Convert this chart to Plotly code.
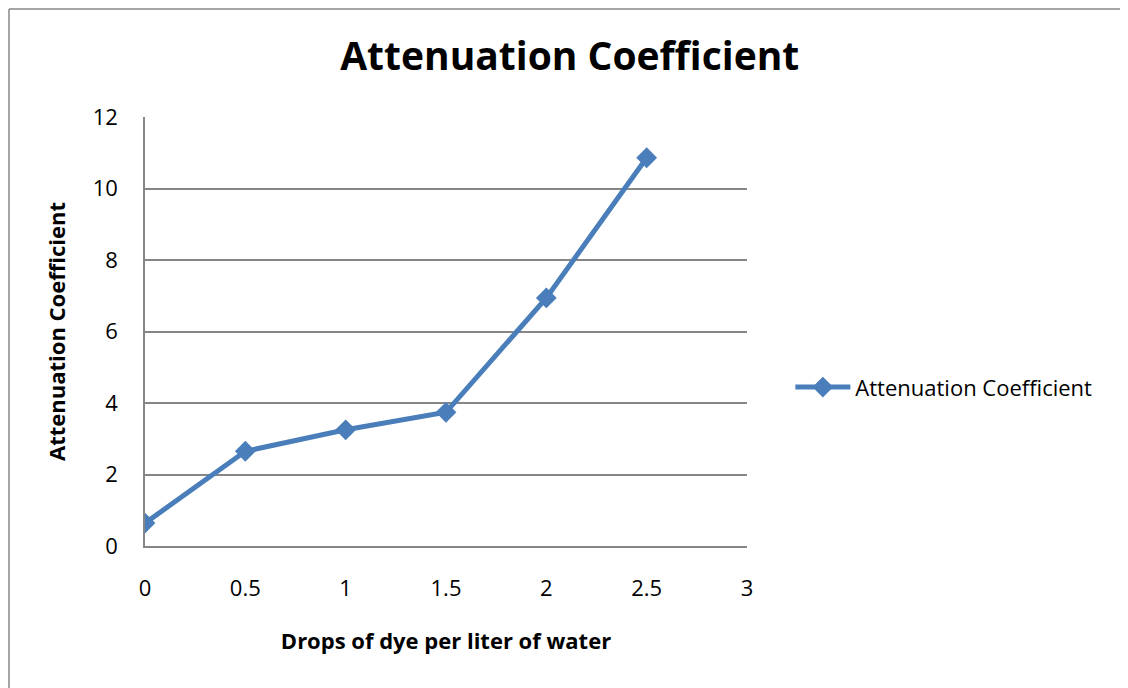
import plotly.graph_objects as go

# data
drops = [0, 0.5, 1, 1.5, 2, 2.5]
attenuation = [0.64, 2.65, 3.25, 3.74, 6.94, 10.86]
series_name = "Attenuation Coefficient"

FONT = "Open Sans, Calibri, Carlito, sans-serif"
BLUE = "#4A7EBB"
GRID = "#868686"

fig = go.Figure()
fig.add_trace(go.Scatter(
    x=drops,
    y=attenuation,
    mode="lines+markers",
    name=series_name,
    line=dict(color=BLUE, width=5),
    marker=dict(symbol="diamond", size=16, color=BLUE),
))

# chart frame (only left/top edges fall inside the picture)
fig.add_shape(type="line", xref="paper", yref="paper",
              x0=-0.2259, x1=-0.2259, y0=1.2517, y1=-0.5,
              line=dict(color="#878787", width=1.5))
fig.add_shape(type="line", xref="paper", yref="paper",
              x0=-0.2259, x1=1.8, y0=1.2517, y1=1.2517,
              line=dict(color="#878787", width=1.5))

fig.update_layout(
    width=1128,
    height=688,
    margin=dict(l=137, r=389, t=109, b=150),
    paper_bgcolor="white",
    plot_bgcolor="white",
    font=dict(family=FONT, color="black", size=22),
    title=dict(
        text="<b>Attenuation Coefficient</b>",
        font=dict(size=39, family=FONT),
        x=0.498, xanchor="center",
        y=0.929, yanchor="middle",
    ),
    xaxis=dict(
        range=[0, 3],
        tickvals=[0, 0.5, 1, 1.5, 2, 2.5, 3],
        ticktext=["0", "0.5", "1", "1.5", "2", "2.5", "3"],
        showgrid=False,
        zeroline=False,
        showline=True,
        linecolor=GRID,
        linewidth=1.5,
        ticks="",
        ticklabelstandoff=22,
        title=dict(text="<b>Drops of dye per liter of water</b>",
                   font=dict(size=22, family=FONT), standoff=32),
    ),
    yaxis=dict(
        range=[0, 12],
        tickvals=[0, 2, 4, 6, 8, 10, 12],
        showgrid=True,
        gridcolor=GRID,
        gridwidth=1.5,
        zeroline=False,
        showline=True,
        linecolor=GRID,
        linewidth=1.5,
        ticks="",
        ticklabelstandoff=21,
        title=dict(text="<b>Attenuation Coefficient</b>",
                   font=dict(size=22, family=FONT), standoff=21),
    ),
    showlegend=True,
    legend=dict(
        x=1.072, xanchor="left",
        y=0.37, yanchor="middle",
        font=dict(size=22, family=FONT),
        bgcolor="rgba(0,0,0,0)",
        itemwidth=55,
    ),
)

fig.write_html("out.html")
